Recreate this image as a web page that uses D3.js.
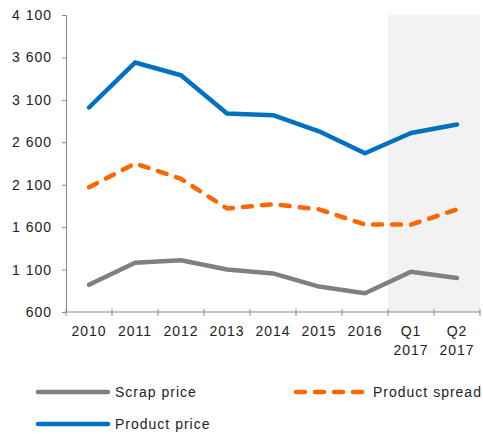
<!DOCTYPE html>
<html>
<head>
<meta charset="utf-8">
<script src="https://cdn.jsdelivr.net/npm/d3@7"></script>
<style>
  body { margin: 0; background: #fff; }
  text { font-family: "Liberation Sans", Arial, sans-serif; font-size: 14px; fill: #222; letter-spacing: 1px; }
</style>
</head>
<body>
<svg id="chart" width="483" height="439"></svg>
<script>
// categories and series
const categories = ["2010", "2011", "2012", "2013", "2014", "2015", "2016", "Q1 2017", "Q2 2017"];
const productPrice = [3010, 3540, 3390, 2940, 2920, 2730, 2470, 2710, 2810];
const productSpread = [2070, 2350, 2170, 1820, 1870, 1810, 1630, 1630, 1810];
const scrapPrice = [920, 1180, 1210, 1100, 1055, 900, 820, 1075, 1000];
const yTicks = [600, 1100, 1600, 2100, 2600, 3100, 3600, 4100];
const shaded = ["Q1 2017", "Q2 2017"];

const series = [
  { name: "Scrap price", values: scrapPrice, color: "#808080", dash: null },
  { name: "Product spread", values: productSpread, color: "#ff6600", dash: "9,10" },
  { name: "Product price", values: productPrice, color: "#0070c0", dash: null }
];

const svg = d3.select("#chart");
const plot = { left: 66, right: 480, top: 15, bottom: 312 };

const x = d3.scaleBand().domain(categories).range([plot.left, plot.right]).padding(0);
const y = d3.scaleLinear().domain([600, 4100]).range([plot.bottom, plot.top]);

// shaded forecast area
svg.append("rect")
  .attr("x", x(shaded[0]))
  .attr("y", plot.top)
  .attr("width", x(shaded[1]) + x.bandwidth() - x(shaded[0]))
  .attr("height", plot.bottom - plot.top)
  .attr("fill", "#f2f2f2");

// y axis
const fmt = v => d3.format(",")(v).replace(",", " ");
const yAxis = svg.append("g").attr("transform", `translate(${plot.left},0)`)
  .call(d3.axisLeft(y).tickValues(yTicks).tickSize(4).tickPadding(10).tickFormat(fmt));
yAxis.select(".domain").attr("stroke", "#888");
yAxis.selectAll(".tick line").attr("stroke", "#888");
yAxis.selectAll("text").attr("fill", "#222").style("font-size", "14px")
  .style("font-family", "'Liberation Sans', Arial, sans-serif");

// x axis: ticks at band edges
const edges = categories.map(c => x(c)).concat([plot.right]);
const xg = svg.append("g");
xg.append("line").attr("x1", plot.left).attr("x2", plot.right)
  .attr("y1", plot.bottom).attr("y2", plot.bottom).attr("stroke", "#888");
xg.selectAll(".xt").data(edges).join("line")
  .attr("x1", d => d).attr("x2", d => d)
  .attr("y1", plot.bottom - 3).attr("y2", plot.bottom + 4)
  .attr("stroke", "#888");
xg.selectAll(".xl").data(categories).join("text")
  .attr("x", d => x(d) + x.bandwidth() / 2)
  .attr("y", 336)
  .attr("text-anchor", "middle")
  .each(function(d) {
    const t = d3.select(this);
    d.split(" ").forEach((p, i) => t.append("tspan")
      .attr("x", x(d) + x.bandwidth() / 2)
      .attr("dy", i === 0 ? 0 : 19)
      .text(p));
  });

// lines
const line = d3.line()
  .x((d, i) => x(categories[i]) + x.bandwidth() / 2)
  .y(d => y(d));

svg.selectAll(".series").data(series).join("path")
  .attr("d", d => line(d.values))
  .attr("fill", "none")
  .attr("stroke", d => d.color)
  .attr("stroke-width", 4.5)
  .attr("stroke-linejoin", "round")
  .attr("stroke-linecap", "round")
  .attr("stroke-dasharray", d => d.dash);

// legend
const legendPos = [
  { x: 38, y: 392 },
  { x: 296, y: 392 },
  { x: 38, y: 424 }
];
const lg = svg.selectAll(".legend").data(series).join("g")
  .attr("transform", (d, i) => `translate(${legendPos[i].x},${legendPos[i].y})`);
lg.append("line")
  .attr("x1", 0).attr("x2", 70).attr("y1", 0).attr("y2", 0)
  .attr("stroke", d => d.color)
  .attr("stroke-width", 4.5)
  .attr("stroke-linecap", "round")
  .attr("stroke-dasharray", d => d.dash);
lg.append("text")
  .attr("x", 77).attr("y", 5)
  .text(d => d.name);
</script>
</body>
</html>
